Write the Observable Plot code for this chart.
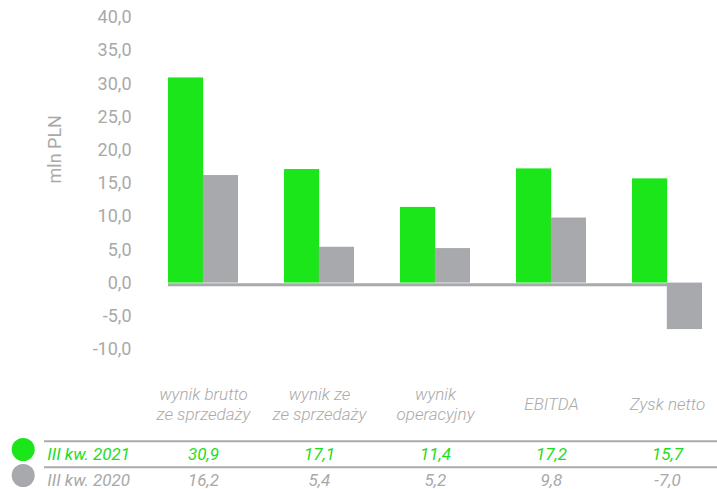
<!DOCTYPE html>
<html>
<head>
<meta charset="utf-8">
<script src="https://cdn.jsdelivr.net/npm/d3@7"></script>
<script src="https://cdn.jsdelivr.net/npm/@observablehq/plot@0.6"></script>
<style>
  html, body { margin: 0; padding: 0; background: #ffffff; }
  #chart svg { display: block; }
</style>
</head>
<body>
<div id="chart"></div>
<script>
// ---- data ----
const categories = ["wynik brutto\nze sprzedaży", "wynik ze\nze sprzedaży", "wynik\noperacyjny", "EBITDA", "Zysk netto"];
const series = ["III kw. 2021", "III kw. 2020"];
const values2021 = [30.9, 17.1, 11.4, 17.2, 15.7];
const values2020 = [16.2, 5.4, 5.2, 9.8, -7.0];
const yTicks = [-10, -5, 0, 5, 10, 15, 20, 25, 30, 35, 40];
const yLabel = "mln PLN";

// ---- styles ----
const GREEN = "#1ae61a";
const GREEN_TEXT = "#1fdc1f";
const GRAY = "#a8a9ac";
const TEXT_GRAY = "#a9a9a9";
const fmt = d => d.toFixed(1).replace(".", ",");

const rows = categories.flatMap((c, i) => [
  {category: c, series: series[0], value: values2021[i]},
  {category: c, series: series[1], value: values2020[i]}
]);

const W = 717, ML = 168, MR = 15;
const paddingInner = 0.4;
const bandwidth = (W - ML - MR) / (categories.length - paddingInner) * (1 - paddingInner);
const half = bandwidth / 2;

const xScale = {type: "band", domain: categories, paddingInner, paddingOuter: 0, axis: null};

const chart = Plot.plot({
  width: W, height: 432,
  marginLeft: ML, marginRight: MR, marginTop: 17, marginBottom: 83,
  style: {fontFamily: "Roboto, sans-serif", background: "#ffffff", overflow: "visible"},
  x: xScale,
  y: {domain: [-10, 40], axis: null},
  marks: [
    Plot.axisY(yTicks, {
      anchor: "left", tickSize: 0, tickPadding: 37, tickFormat: fmt,
      fontSize: 18, fill: TEXT_GRAY, label: null
    }),
    Plot.text([yLabel], {
      frameAnchor: "left", dx: -113, rotate: -90, fontSize: 18,
      fill: TEXT_GRAY, text: d => d
    }),
    Plot.barY(rows.filter(d => d.series === series[0]), {
      x: "category", y: "value", fill: GREEN, insetRight: half
    }),
    Plot.barY(rows.filter(d => d.series === series[1]), {
      x: "category", y: "value", fill: GRAY, insetLeft: half
    }),
    Plot.ruleY([0], {stroke: GRAY, strokeWidth: 3, dy: 1.7}),
    Plot.text(categories, {
      x: d => d, text: d => d, frameAnchor: "bottom", dy: 54,
      lineAnchor: "middle", lineHeight: 1.18,
      fontSize: 17, fontStyle: "italic", fontWeight: 300, fill: TEXT_GRAY
    })
  ]
});

const table = Plot.plot({
  width: W, height: 57,
  marginLeft: 44, marginRight: 0, marginTop: 0, marginBottom: 0,
  style: {fontFamily: "Roboto, sans-serif", background: "#ffffff", overflow: "visible"},
  x: {...xScale, range: [ML, W - MR]},
  y: {type: "point", domain: series, range: [22, 48.7], padding: 0, axis: null},
  color: {domain: series, range: [GREEN, GRAY]},
  marks: [
    Plot.ruleY(series, {y: d => d, dy: -13.3, stroke: "#ababab", strokeWidth: 2}),
    Plot.dot(series, {y: d => d, frameAnchor: "left", dx: -21.3, dy: -5, r: 11.5, fill: d => d}),
    Plot.text(series, {
      y: d => d, text: d => d, frameAnchor: "left", dx: 2.7, textAnchor: "start",
      fontSize: 17, fontStyle: "italic", fontWeight: 400,
      fill: d => d === series[0] ? GREEN_TEXT : TEXT_GRAY
    }),
    Plot.text(rows, {
      x: "category", y: "series", text: d => fmt(d.value),
      fontSize: 17, fontStyle: "italic", fontWeight: 400,
      fill: d => d.series === series[0] ? GREEN_TEXT : TEXT_GRAY
    })
  ]
});

document.getElementById("chart").append(chart, table);
</script>
</body>
</html>
